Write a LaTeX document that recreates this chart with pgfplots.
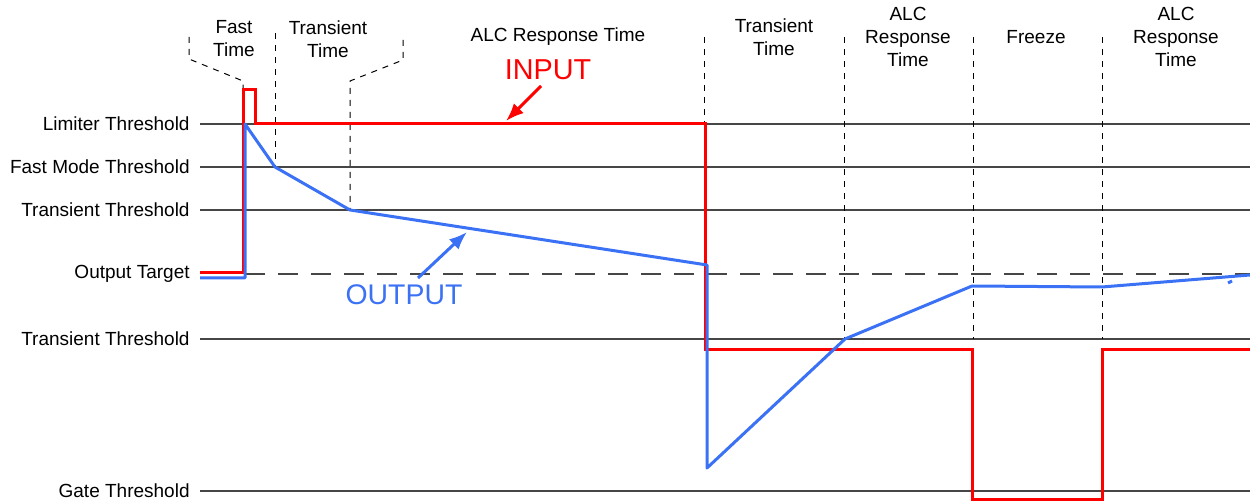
\documentclass[border=0pt]{standalone}
\usepackage{fontspec}
\setmainfont{Liberation Sans}
\usepackage{pgfplots}
\pgfplotsset{compat=1.18}
\usetikzlibrary{arrows.meta}

\definecolor{inred}{RGB}{255,0,0}
\definecolor{outblue}{RGB}{59,113,245}
\definecolor{thr}{RGB}{70,70,70}

\begin{document}
\fontsize{9.5}{11.5}\selectfont
\begin{tikzpicture}
\begin{axis}[
  width=625pt, height=251pt, scale only axis,
  xmin=0, xmax=1250, ymin=0, ymax=502, y dir=reverse,
  hide axis, clip=false,
]
% threshold lines
\addplot[thr, line width=0.7pt] coordinates {(200,124) (1250,124)};
\addplot[thr, line width=0.7pt] coordinates {(200,167) (1250,167)};
\addplot[thr, line width=0.7pt] coordinates {(200,210) (1250,210)};
\addplot[thr, line width=0.7pt, dash pattern=on 10pt off 6.5pt] coordinates {(245,274) (1250,274)};
\addplot[thr, line width=0.7pt] coordinates {(200,339) (1250,339)};
\addplot[thr, line width=0.7pt] coordinates {(200,491) (1250,491)};

% time brackets and phase boundaries
\addplot[black, line width=0.5pt, dash pattern=on 3pt off 3pt] coordinates {(189,37) (189,59) (243,81) (243,124)};
\addplot[black, line width=0.5pt, dash pattern=on 3pt off 3pt] coordinates {(275,33) (275,167)};
\addplot[black, line width=0.5pt, dash pattern=on 3pt off 3pt] coordinates {(403,40) (403,60) (350,81) (350,210)};
\addplot[black, line width=0.5pt, dash pattern=on 3pt off 3pt] coordinates {(704,37) (704,124)};
\addplot[black, line width=0.5pt, dash pattern=on 3pt off 3pt] coordinates {(844,37) (844,339)};
\addplot[black, line width=0.5pt, dash pattern=on 3pt off 3pt] coordinates {(973,37) (973,339)};
\addplot[black, line width=0.5pt, dash pattern=on 3pt off 3pt] coordinates {(1102,37) (1102,339)};

% INPUT
\addplot[inred, line width=1.5pt, line join=miter] coordinates {
 (200,273) (243,273) (243,90) (255,90) (255,124) (705,124) (705,350)
 (972,350) (972,500) (1102,500) (1102,350) (1250,350)};
% OUTPUT
\addplot[outblue, line width=1.5pt, line join=round] coordinates {
 (200,278) (245,278) (245,124) (275,167) (350,210) (707,265) (707,468)
 (845,339) (972,286) (1102,287) (1250,275)};
\addplot[outblue, line width=1.5pt] coordinates {(1228,283) (1232,281)};

% annotation arrows
\addplot[outblue, line width=1.5pt, -{Latex[length=9pt,width=7pt]}] coordinates {(418,278) (467,232)};
\addplot[inred, line width=1.5pt, -{Latex[length=9pt,width=7pt]}] coordinates {(541,86) (506,121)};

% labels
\node[anchor=east, inner sep=0pt] at (axis cs:190,124) {Limiter Threshold};
\node[anchor=east, inner sep=0pt] at (axis cs:190,167) {Fast Mode Threshold};
\node[anchor=east, inner sep=0pt] at (axis cs:190,210) {Transient Threshold};
\node[anchor=east, inner sep=0pt] at (axis cs:190,274) {Output Target};
\node[anchor=east, inner sep=0pt] at (axis cs:190,339) {Transient Threshold};
\node[anchor=east, inner sep=0pt] at (axis cs:190,491) {Gate Threshold};

\node[align=center] at (axis cs:234,39) {Fast\\Time};
\node[align=center] at (axis cs:328,39) {Transient\\Time};
\node at (axis cs:558,37) {ALC Response Time};
\node[align=center] at (axis cs:774,37) {Transient\\Time};
\node[align=center] at (axis cs:908,37) {ALC\\Response\\Time};
\node at (axis cs:1036,37) {Freeze};
\node[align=center] at (axis cs:1176,37) {ALC\\Response\\Time};

\node[text=inred, font=\fontsize{14.4}{16}\selectfont] at (axis cs:548,70) {INPUT};
\node[text=outblue, font=\fontsize{14.2}{16}\selectfont] at (axis cs:404,295) {OUTPUT};
\end{axis}
\pgfresetboundingbox
\useasboundingbox (current axis.south west) rectangle (current axis.north east);
\end{tikzpicture}
\end{document}
